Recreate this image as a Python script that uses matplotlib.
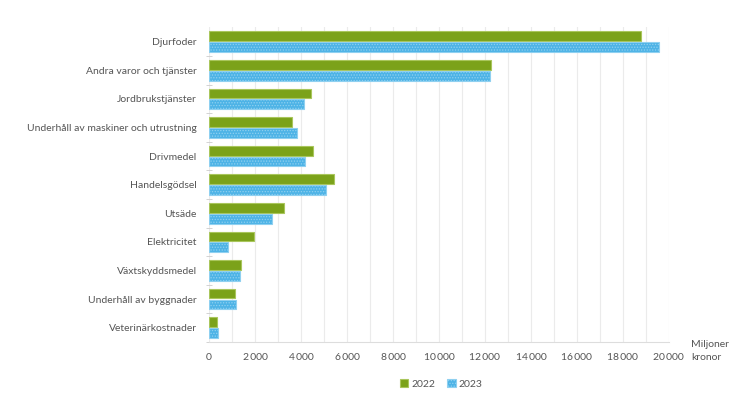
import numpy as np
import matplotlib
matplotlib.use("Agg")
import matplotlib.pyplot as plt
from matplotlib.ticker import MultipleLocator, FuncFormatter

plt.rcParams['font.family'] = ['Lato', 'DejaVu Sans']
plt.rcParams['hatch.linewidth'] = 0.6

kategorier = ["Djurfoder", "Andra varor och tjänster", "Jordbrukstjänster",
              "Underhåll av maskiner och utrustning", "Drivmedel", "Handelsgödsel",
              "Utsäde", "Elektricitet", "Växtskyddsmedel", "Underhåll av byggnader",
              "Veterinärkostnader"]
v2022 = [18800, 12260, 4430, 3600, 4520, 5430, 3260, 1960, 1390, 1120, 360]
v2023 = [19570, 12200, 4130, 3830, 4170, 5090, 2740, 830, 1330, 1190, 380]

gron = "#7ba21a"
bla = "#4db3e6"
text_farg = "#555555"
fs = 7.5

fig = plt.figure(figsize=(7.39, 3.98), dpi=100)
ax = fig.add_axes([0.283, 0.141, 0.622, 0.79])

y = np.arange(len(kategorier))
h = 0.34
ax.barh(y - h / 2 - 0.02, v2022, height=h, color=gron, edgecolor="#a9c65c",
        linewidth=0.8, label="2022", zorder=3)
ax.barh(y + h / 2 + 0.02, v2023, height=h, color=bla, edgecolor="#8fd0f0",
        linewidth=0.8, hatch="......", label="2023", zorder=3)

ax.set_ylim(len(kategorier) - 0.5, -0.5)
ax.set_yticks(y)
ax.set_yticklabels(kategorier, fontsize=fs, color=text_farg)
ax.set_yticks(np.arange(1, len(kategorier) + 1) - 0.5, minor=True)
ax.tick_params(axis="y", which="major", length=0, pad=9)
ax.tick_params(axis="y", which="minor", length=4, direction="inout", color="#cccccc")

ax.set_xlim(0, 20000)
ax.xaxis.set_major_locator(MultipleLocator(2000))
ax.xaxis.set_minor_locator(MultipleLocator(1000))
ax.xaxis.set_major_formatter(FuncFormatter(lambda v, p: f"{int(v):,}".replace(",", "\u2009")))
ax.tick_params(axis="x", which="both", length=0, labelsize=fs, labelcolor=text_farg, pad=8)
ax.grid(axis="x", which="both", color="#ebebeb", linewidth=0.8, zorder=0)

for s in ["top", "right", "left"]:
    ax.spines[s].set_visible(False)
ax.spines["bottom"].set_color("#dddddd")

fig.text(0.935, 0.118, "Miljoner\nkronor", fontsize=fs, color=text_farg,
         ha="left", va="center", linespacing=1.5)

leg = fig.legend(loc="center", bbox_to_anchor=(0.597, 0.035), ncol=2, frameon=False,
                 fontsize=fs, handlelength=0.8, handleheight=0.8, handletextpad=0.3,
                 columnspacing=1.2)
for t in leg.get_texts():
    t.set_color(text_farg)

fig.savefig("out.png", dpi=100)
